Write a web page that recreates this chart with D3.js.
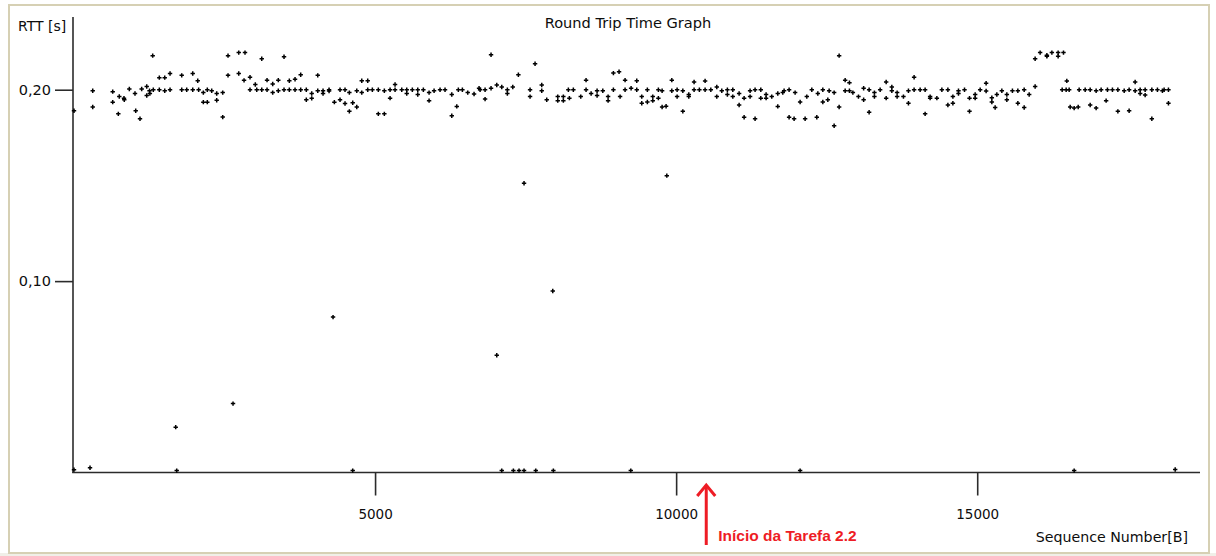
<!DOCTYPE html>
<html>
<head>
<meta charset="utf-8">
<script src="https://cdn.jsdelivr.net/npm/d3@7"></script>
<style>
  html, body { margin: 0; padding: 0; background: #ffffff; }
  svg { display: block; }
</style>
</head>
<body>
<svg id="chart" width="1216" height="556"></svg>
<script>
// ---- Data (sequence number [B], RTT [s]) ----
const segmentA = [
  [0,0.189],[311,0.1995],[311,0.191],[643,0.199],[643,0.1935],[736,0.1874],[752,0.1965],[830,0.1956],[835,0.1948],
  [919,0.2004],[1013,0.198],[1025,0.189],[1096,0.1848],[1124,0.2004],[1208,0.197],[1208,0.2017],[1254,0.1995],[1260,0.198],
  [1307,0.2178],[1317,0.2],[1417,0.2],[1417,0.2063],[1507,0.2063],[1507,0.1995],[1595,0.2085],[1595,0.2],[1789,0.2075],
  [1789,0.2],[1872,0.2],[1972,0.2085],[1972,0.2],[2055,0.2047],[2070,0.2],[2148,0.1985],[2148,0.1935],[2214,0.1935],
  [2214,0.2],[2287,0.1995],[2370,0.198],[2370,0.1945],[2470,0.1985],[2470,0.1857],[2558,0.2178],[2558,0.2075],
  [2736,0.2194],[2736,0.2085],[2824,0.2049],[2840,0.2194],[2923,0.2065],[2923,0.2],[3011,0.2027],[3035,0.2],
  [3118,0.2162],[3118,0.2],[3206,0.205],[3206,0.2],[3300,0.203],[3300,0.1985],[3393,0.205],[3393,0.1995],
  [3488,0.2172],[3488,0.2],[3576,0.2047],[3576,0.2],[3671,0.2055],[3671,0.2],[3765,0.2078],[3765,0.2],
  [3858,0.2],[3858,0.1948],[3948,0.198],[3948,0.1955],[4048,0.2075],[4048,0.1995],[4136,0.198],[4136,0.1995],
  [4236,0.1993],[4236,0.2],[4324,0.1935],[4418,0.2],[4418,0.1948],[4501,0.2],[4501,0.1928],[4573,0.1985],
  [4573,0.1887],[4629,0.1932],[4696,0.1995],[4696,0.191]
];
const segmentB = [
  [4779,0.1985],[4779,0.2047],[4878,0.2047],[4878,0.2],[4955,0.2],[5054,0.2],[5054,0.1874],[5154,0.1995],[5154,0.1874],
  [5249,0.2],[5249,0.1956],[5332,0.2027],[5332,0.2],[5443,0.2],[5526,0.2],[5526,0.198],[5619,0.2],[5709,0.2],[5709,0.1975],
  [5802,0.2],[5897,0.1985],[5897,0.1943],[5980,0.1995],[6079,0.2],[6162,0.2],[6274,0.1975],[6274,0.1864],[6357,0.1913],
  [6383,0.2],[6450,0.2],[6539,0.1985],[6644,0.1978],[6727,0.2008],[6744,0.2],[6827,0.2],[6827,0.1951],[6926,0.2183],
  [6926,0.2008],[7021,0.2025],[7104,0.2014],[7197,0.2],[7197,0.198],[7287,0.2014],[7380,0.2078],[7574,0.2],[7574,0.1964],
  [7657,0.2136],[7768,0.2025],[7768,0.1995],[7851,0.1948],[8034,0.1964],[8034,0.1943],[8127,0.1964],[8127,0.1943],
  [8210,0.2],[8227,0.1956],[8293,0.2],[8416,0.1964],[8504,0.205],[8504,0.2],[8588,0.198],[8687,0.1995],[8687,0.197],
  [8782,0.1995],[8870,0.1943],[8870,0.1964],[8958,0.2087],[8958,0.2],[9052,0.2094],[9069,0.1964],[9152,0.205],
  [9152,0.2],[9252,0.2008],[9346,0.2047],[9346,0.2]
];
const segmentC = [
  [9429,0.1964],[9429,0.1929],[9522,0.2],[9522,0.1936],[9612,0.1964],[9612,0.1943],[9705,0.2],[9705,0.1956],[9767,0.191],
  [9767,0.1995],[9833,0.1914],[9928,0.205],[9928,0.1995],[10016,0.2],[10016,0.1964],[10111,0.1995],[10111,0.1887],
  [10210,0.1964],[10210,0.1975],[10298,0.204],[10298,0.2],[10386,0.2],[10481,0.2046],[10481,0.2],[10576,0.2],
  [10675,0.2014],[10675,0.1964],[10758,0.1995],[10851,0.2],[10851,0.1975],[10941,0.2],[10941,0.1964],[11046,0.198],
  [11046,0.192],[11129,0.1956],[11129,0.1856],[11228,0.1995],[11228,0.1964],[11311,0.2],[11311,0.1848],[11406,0.2],
  [11406,0.1956],[11494,0.1975],[11494,0.1956],[11588,0.1964],[11688,0.198],[11688,0.1913],[11771,0.1985],[11793,0.1995],
  [11876,0.2],[11876,0.1856],[11959,0.1848],[11976,0.1985],[12059,0.1936],[12142,0.1848],[12170,0.1964],[12253,0.2],
  [12336,0.1856],[12353,0.198],[12436,0.2],[12436,0.1936],[12519,0.1948],[12541,0.1995],[12624,0.1985],[12624,0.1812],
  [12707,0.2178],[12707,0.191],[12807,0.205],[12807,0.1995],[12878,0.2037],[12878,0.1995],[12935,0.1985],[13028,0.1964],
  [13114,0.2008],[13114,0.1948],[13205,0.2],[13205,0.1882],[13293,0.1985],[13293,0.1964],[13388,0.2],[13488,0.204],
  [13488,0.1956],[13582,0.2014],[13582,0.1995],[13670,0.1985],[13670,0.1964],[13775,0.1964],[13858,0.1995],
  [13858,0.1929],[13952,0.2065],[13952,0.2],[14052,0.2],[14135,0.2],[14135,0.1874]
];
const segmentD = [
  [14218,0.1964],[14218,0.1956],[14330,0.1956],[14413,0.2],[14513,0.2],[14513,0.192],[14596,0.1964],[14596,0.1929],
  [14689,0.1995],[14689,0.198],[14789,0.2],[14872,0.1956],[14872,0.1887],[14966,0.1975],[14966,0.1956],[15049,0.2],
  [15148,0.2034],[15148,0.1993],[15243,0.1958],[15243,0.1936],[15298,0.1907],[15326,0.1975],[15409,0.1995],
  [15492,0.1975],[15492,0.1948],[15585,0.1995],[15675,0.1995],[15675,0.1929],[15780,0.2],[15780,0.1907],[15863,0.1975],
  [15962,0.2162],[15962,0.2017],[16045,0.2194],[16157,0.2175],[16157,0.218],[16240,0.2194],[16344,0.2175],[16344,0.2194],
  [16433,0.2194],[16411,0.2],[16477,0.2],[16488,0.2046],[16527,0.2],[16544,0.191],[16610,0.1904],[16677,0.191],
  [16693,0.2],[16793,0.2],[16876,0.2],[16876,0.192],[16975,0.1995],[16975,0.1904],[17058,0.2],[17141,0.1943],
  [17163,0.2],[17246,0.2],[17336,0.2],[17336,0.1887],[17441,0.1995],[17523,0.2],[17523,0.189],[17623,0.204],
  [17623,0.1995],[17706,0.2],[17706,0.198],[17789,0.2],[17789,0.1972],[17900,0.2],[17900,0.1848],[17993,0.2],
  [18076,0.1995],[18104,0.2],[18176,0.2],[18176,0.1929]
];
const outliers = [
  [0,0.0015],[266,0.0025],[1689,0.0237],[1706,0.001],[2641,0.036],[4302,0.0812],[4629,0.001],[7021,0.0613],
  [7104,0.001],[7297,0.001],[7391,0.001],[7474,0.1511],[7474,0.001],[7669,0.001],[7951,0.0948],[7961,0.001],
  [9247,0.001],[9845,0.1551],[12059,0.001],[16610,0.001],[18288,0.0016]
];
const yMajorTicks = [0.10, 0.20];
const yMinorTicks = [0.02, 0.04, 0.06, 0.08, 0.12, 0.14, 0.16, 0.18, 0.22];
const xMajorTicks = [5000, 10000, 15000];
const xMinorTicks = [1000,2000,3000,4000,6000,7000,8000,9000,11000,12000,13000,14000,16000,17000,18000];
const annotationSeq = 10500;
const annotationText = "Início da Tarefa 2.2";
const titleText = "Round Trip Time Graph";
const yLabel = "RTT [s]";
const xLabel = "Sequence Number[B]";

// ---- Drawing ----
const svg = d3.select("#chart");
const points = [].concat(segmentA, segmentB, segmentC, segmentD, outliers);

const x = d3.scaleLinear().domain([0, 18700]).range([74, 1200]);
const y = d3.scaleLinear().domain([0, 0.238]).range([472.5, 17]);

const font = "DejaVu Sans, Verdana, sans-serif";
const axisColor = "#2b2b2b";
const textColor = "#0d0d0d";

// frame
svg.append("rect").attr("x", 0).attr("y", 0).attr("width", 1216).attr("height", 556).attr("fill", "#ffffff");
svg.append("rect").attr("x", 0).attr("y", 553).attr("width", 1216).attr("height", 3).attr("fill", "#f0efe8");
svg.append("rect").attr("x", 9).attr("y", 5).attr("width", 1200).attr("height", 548)
  .attr("fill", "#ffffff").attr("stroke", "#d6d0b4").attr("stroke-width", 2);

// title & axis titles
svg.append("text").attr("x", 628).attr("y", 28).attr("text-anchor", "middle")
  .attr("font-family", font).attr("font-size", 14.6).attr("fill", textColor).text(titleText);
svg.append("text").attr("x", 18).attr("y", 31)
  .attr("font-family", font).attr("font-size", 14).attr("fill", textColor).text(yLabel);
svg.append("text").attr("x", 1188).attr("y", 542).attr("text-anchor", "end")
  .attr("font-family", font).attr("font-size", 14.2).attr("fill", textColor).text(xLabel);

// Y axis
const fmt = v => d3.format(".2f")(v).replace(".", ",");
const yAxisMajor = d3.axisLeft(y).tickValues(yMajorTicks).tickSize(18).tickPadding(4).tickFormat(fmt);
const yAxisMinor = d3.axisLeft(y).tickValues(yMinorTicks).tickSize(10).tickFormat("");
const gy = svg.append("g").attr("transform", "translate(73,0)");
gy.call(yAxisMinor);
gy.call(yAxisMajor);
gy.selectAll("path.domain").attr("stroke", axisColor).attr("stroke-width", 1.6)
  .attr("d", `M0,${y.range()[1]}V${y(0) + 0.5}`);
gy.selectAll(".tick line").attr("stroke", axisColor).attr("stroke-width", 1.6);
gy.selectAll(".tick text").attr("font-family", font).attr("font-size", 14.5).attr("fill", textColor);

// X axis
const xAxisMajor = d3.axisBottom(x).tickValues(xMajorTicks).tickSize(23).tickPadding(14).tickFormat(d3.format("d"));
const xAxisMinor = d3.axisBottom(x).tickValues(xMinorTicks).tickSize(12).tickFormat("");
const gx = svg.append("g").attr("transform", `translate(0,${y(0)})`);
gx.call(xAxisMinor);
gx.call(xAxisMajor);
gx.selectAll("path.domain").attr("stroke", axisColor).attr("stroke-width", 1.6)
  .attr("d", `M72.2,0H${x.range()[1]}`);
gx.selectAll(".tick line").attr("stroke", axisColor).attr("stroke-width", 1.6);
gx.selectAll(".tick text").attr("font-family", font).attr("font-size", 13.5).attr("fill", textColor);

// points
const plus = "M-2.2,0H2.2M0,-2.2V2.2";
svg.append("g").selectAll("path").data(points).join("path")
  .attr("transform", d => `translate(${x(d[0])},${y(d[1])})`)
  .attr("d", plus).attr("stroke", "#000").attr("stroke-width", 1.5).attr("fill", "none");

// annotation
const ax = x(annotationSeq);
const red = "#ee1c25";
svg.append("line").attr("x1", ax).attr("x2", ax).attr("y1", 545).attr("y2", 485)
  .attr("stroke", red).attr("stroke-width", 3);
svg.append("path").attr("d", `M${ax - 9},${496}L${ax},${485}L${ax + 9},${496}`)
  .attr("stroke", red).attr("stroke-width", 3).attr("fill", "none").attr("stroke-linejoin", "miter");
svg.append("text").attr("x", ax + 12).attr("y", 541)
  .attr("font-family", "Liberation Sans Narrow, Liberation Sans, Arial, sans-serif")
  .attr("font-weight", "bold").attr("font-size", 15.5).attr("fill", red).text(annotationText);
</script>
</body>
</html>
